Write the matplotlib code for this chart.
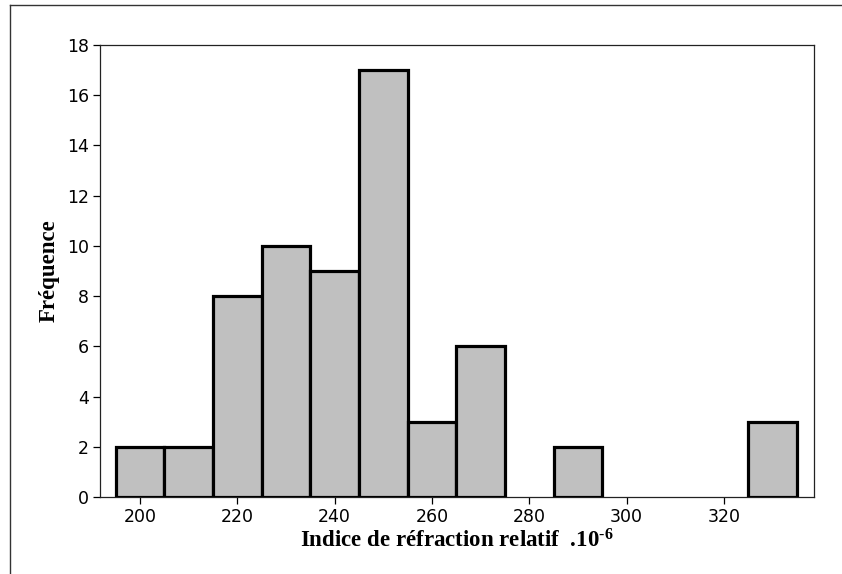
import numpy as np
import matplotlib
matplotlib.use("Agg")
import matplotlib.pyplot as plt
from matplotlib.lines import Line2D

# bin edges and counts
bin_left = [195, 205, 215, 225, 235, 245, 255, 265, 275, 285, 295, 305, 315, 325]
counts = [2, 2, 8, 10, 9, 17, 3, 6, 0, 2, 0, 0, 0, 3]
bin_width = 10
xticks = [200, 220, 240, 260, 280, 300, 320]
yticks = [0, 2, 4, 6, 8, 10, 12, 14, 16, 18]

plt.rcParams['mathtext.fontset'] = 'custom'
plt.rcParams['mathtext.bf'] = 'Liberation Serif:bold'
plt.rcParams['mathtext.rm'] = 'Liberation Serif:bold'
plt.rcParams['mathtext.it'] = 'Liberation Serif:bold'

fig = plt.figure(figsize=(8.42, 5.74), dpi=100)
ax = fig.add_axes([100/842, 1 - 497/574, 714/842, 452/574])

for x0, c in zip(bin_left, counts):
    if c > 0:
        ax.bar(x0, c, width=bin_width, align='edge', color='#c0c0c0',
               edgecolor='black', linewidth=2.3, zorder=3)

ax.set_xlim(191.8, 338.5)
ax.set_ylim(0, 18)
ax.set_xticks(xticks)
ax.set_yticks(yticks)
for s in ax.spines.values():
    s.set_linewidth(0.9)
    s.set_color('#222222')
ax.tick_params(direction='out', length=5, width=0.9, labelsize=12.5, pad=3)
for lbl in ax.get_xticklabels() + ax.get_yticklabels():
    lbl.set_family('DejaVu Sans')

ax.set_xlabel('Indice de réfraction relatif  .1$0^{\\text{-6}}$',
              family='Liberation Serif', fontweight='bold', fontsize=16.5, labelpad=2)
ax.set_ylabel('Fréquence', family='Liberation Serif', fontweight='bold',
              fontsize=16.5, labelpad=5)

# outer frame lines (top and left) like the original export
fig.add_artist(Line2D([10/842, 1], [1 - 5/574, 1 - 5/574], color='#333333',
                      linewidth=1.0, transform=fig.transFigure))
fig.add_artist(Line2D([10/842, 10/842], [0, 1 - 5/574], color='#333333',
                      linewidth=1.0, transform=fig.transFigure))

fig.savefig('out.png', dpi=100)
